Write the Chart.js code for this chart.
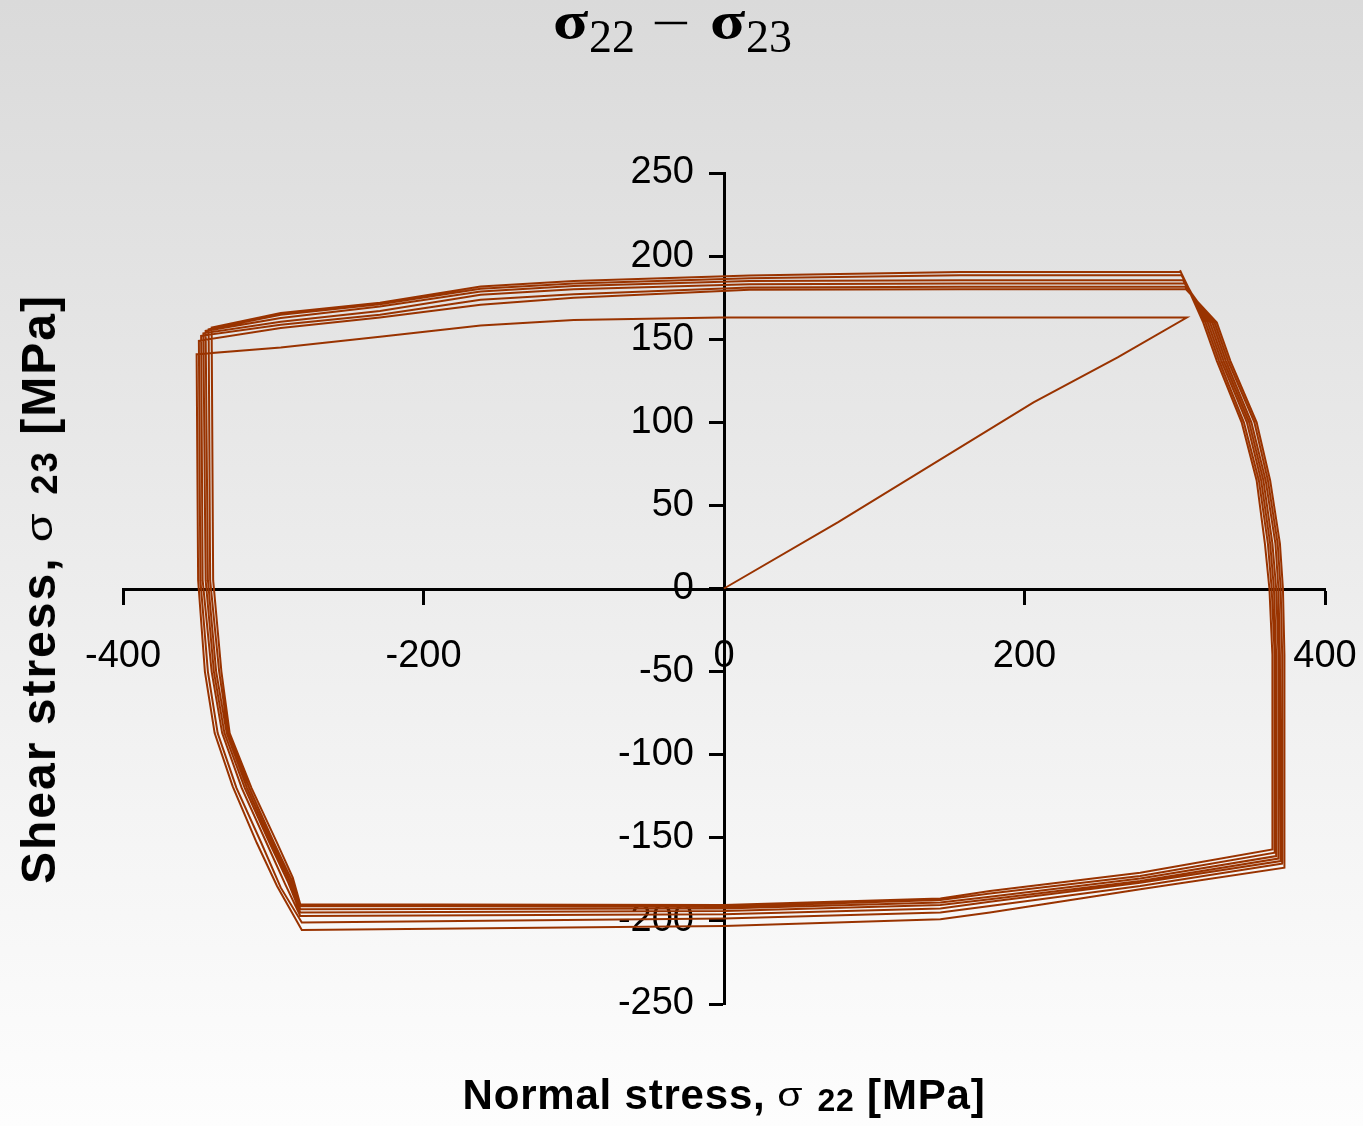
<!DOCTYPE html>
<html>
<head>
<meta charset="utf-8">
<script src="https://cdn.jsdelivr.net/npm/chart.js@4.4.0/dist/chart.umd.min.js"></script>
<style>
html, body { margin: 0; padding: 0; }
#wrap { position: relative; width: 1363px; height: 1126px; overflow: hidden;
  background: linear-gradient(to bottom, #dadada 0%, #e3e3e3 25%, #ececec 50%, #f5f5f5 75%, #fdfdfd 100%); }
#c { position: absolute; left: 0; top: 0; }
#title { position: absolute; left: 553px; top: -5px; font-family: "Liberation Serif", serif; font-size: 50px; line-height: 1; white-space: nowrap; color: #000; }
#title .ts { display: inline-block; font-weight: bold; font-size: 52px; width: 36px; transform: scaleX(1.25); transform-origin: left center; }
#title .tsub { display: inline-block; font-size: 46px; position: relative; top: 14px; }
#title .tm { display: inline-block; font-size: 48px; width: 38px; margin: 0 21px 0 16px; transform: scaleX(1.45); transform-origin: left center; position: relative; top: 1px; }
.axt { position: absolute; font-family: "Liberation Sans", Arial, sans-serif; font-weight: bold; color: #000; white-space: nowrap; line-height: 1; }
.axt .sg { display: inline-block; font-weight: normal; font-size: 0.78em; transform: scaleX(1.25); margin: 0 4px 0 2px; position: relative; top: -3px; }
.axt .sb { font-size: 0.76em; position: relative; top: 2px; }
#xlab { left: 0; width: 1448px; text-align: center; top: 1074px; font-size: 42px; letter-spacing: 0.8px; }
#ylab { left: 39px; top: 589px; font-size: 48px; letter-spacing: 2px; transform: translate(-50%, -50%) rotate(-90deg); }
</style>
</head>
<body>
<div id="wrap">
  <canvas id="c" width="1363" height="1126"></canvas>
  <div id="title"><span class="ts">σ</span><span class="tsub">22</span><span class="tm">−</span><span class="ts">σ</span><span class="tsub">23</span></div>
  <div id="xlab" class="axt">Normal stress, <span class="sg">σ</span> <span class="sb">22</span> [MPa]</div>
  <div id="ylab" class="axt">Shear stress, <span class="sg">σ</span> <span class="sb">23</span> [MPa]</div>
</div>
<script>
// Initial loading path
const loadX = [0, 76, 206, 262, 308];
const loadY = [0, 40, 112, 139, 163];

// Cycles (top traverse -> left side -> bottom traverse -> right side)
const c0x = [157, 17, -3, -100, -162, -229, -295, -351, -350, -345.5, -339, -327, -311, -297.5, -281, 0, 144, 177, 277, 373, 373, 372, 370, 363.5, 354.5, 337, 328, 307.5];
const c0y = [163, 163, 163, 161.5, 158.2, 151.5, 145, 141, 5, -50, -87, -119, -153, -179, -205.5, -203, -199, -195, -181, -168, -40, 0, 27, 65, 100, 137, 160, 180];

const c1x = [157, 17, -100, -162, -229, -295, -349.5, -348.5, -343.5, -337, -324.5, -308, -295, -281, 0, 144, 177, 277, 372, 371.5, 370.5, 368.5, 362, 353, 335.5, 326.5, 307];
const c1y = [180, 179.7, 175, 170.7, 163, 156.7, 149, 5, -50, -87, -120, -153, -180, -201, -198.5, -195, -191, -179, -165.5, -40, 0, 27, 65, 100, 137, 160, 181.5];

const c2x = [157, 17, -100, -162, -229, -295, -348, -347, -341, -334, -321, -304.5, -292, -282, 0, 144, 177, 277, 370.5, 370, 369, 367, 360.5, 351, 334, 325, 306.5];
const c2y = [181.5, 181.1, 177, 173.7, 164.7, 158.7, 152, 5, -50, -87, -120, -153, -178, -197, -196, -192.5, -188.5, -177, -164, -40, 0, 27, 65, 100, 137, 160, 183.5];

const c3x = [157, 17, -100, -162, -229, -295, -346.5, -345, -339.5, -332.5, -319, -302.5, -290, -282, 0, 144, 177, 277, 369, 369, 367.5, 365, 359, 349.5, 332.5, 323.5, 305.5];
const c3y = [183.5, 183.1, 180, 176.7, 167, 160.5, 153.5, 5, -50, -87, -120, -153, -177, -195, -194, -190.5, -187, -176, -162.5, -40, 0, 27, 65, 100, 137, 160, 185.5];

const c4x = [157, 17, -100, -162, -229, -295, -345, -343.5, -338, -331, -317.5, -301, -289, -282, 0, 144, 177, 277, 367.5, 367.5, 366, 363.5, 357.5, 348, 331, 322, 304.5];
const c4y = [185.5, 185, 182, 178.7, 169.7, 162.7, 155, 5, -50, -87, -120, -153, -176, -193, -192.5, -189, -185.5, -174.5, -161, -40, 0, 27, 65, 100, 137, 160, 188.5];

const c5x = [157, 17, -100, -162, -229, -295, -343, -342, -336, -330, -316, -299.5, -288, -282, 0, 144, 177, 277, 366.5, 366.5, 364.5, 362, 356, 346, 329.5, 320.5, 304];
const c5y = [188.5, 186.7, 183.5, 180.3, 171, 164.7, 156, 5, -50, -87, -120, -153, -175, -191, -191.5, -187.5, -183.5, -173, -159, -40, 0, 27, 65, 100, 137, 160, 190.5];

const c6x = [157, 17, -100, -162, -229, -295, -341, -340, -334.5, -329, -314.5, -298, -287, -282, 0, 144, 177, 277, 365, 365, 363, 360, 354.5, 344.5, 328, 319, 303.5];
const c6y = [190.5, 188.3, 185, 181.7, 172, 165.7, 157, 5, -50, -87, -120, -152, -174, -190, -190.5, -186.5, -182, -171, -157, -40, 0, 27, 65, 100, 137, 160, 191.5];

// Axis ranges / ticks
const xMin = -400, xMax = 400, xStep = 200;
const yMin = -250, yMax = 250, yStep = 50;

const pathX = [loadX, c0x, c1x, c2x, c3x, c4x, c5x, c6x];
const pathY = [loadY, c0y, c1y, c2y, c3y, c4y, c5y, c6y];
const points = [];
pathX.forEach((xs, i) => xs.forEach((x, j) => points.push({ x: x, y: pathY[i][j] })));

const tickFont = { family: "'Liberation Sans', Arial, sans-serif", size: 38 };
const axisCommon = {
  type: 'linear',
  position: 'center',
  z: 1,
  grid: { display: true, drawOnChartArea: false, drawTicks: true, tickLength: 14, tickWidth: 3, tickColor: '#000' },
  border: { display: true, color: '#000', width: 3 },
  afterFit: function (scale) { scale.paddingLeft = 0; scale.paddingRight = 0; scale.paddingTop = 0; scale.paddingBottom = 0; }
};

new Chart(document.getElementById('c'), {
  type: 'scatter',
  data: {
    datasets: [{
      data: points,
      showLine: true,
      borderColor: '#993300',
      borderWidth: 2,
      pointRadius: 0,
      tension: 0,
      fill: false
    }]
  },
  options: {
    responsive: false,
    animation: false,
    layout: { padding: { left: 123, right: 38, top: 173, bottom: 122 } },
    plugins: { legend: { display: false }, title: { display: false }, tooltip: { enabled: false } },
    scales: {
      x: Object.assign({}, axisCommon, {
        min: xMin, max: xMax,
        ticks: { stepSize: xStep, font: tickFont, color: '#000', padding: 31, maxRotation: 0, autoSkip: false }
      }),
      y: Object.assign({}, axisCommon, {
        min: yMin, max: yMax,
        ticks: { stepSize: yStep, font: tickFont, color: '#000', padding: 16, autoSkip: false }
      })
    }
  }
});
</script>
</body>
</html>
